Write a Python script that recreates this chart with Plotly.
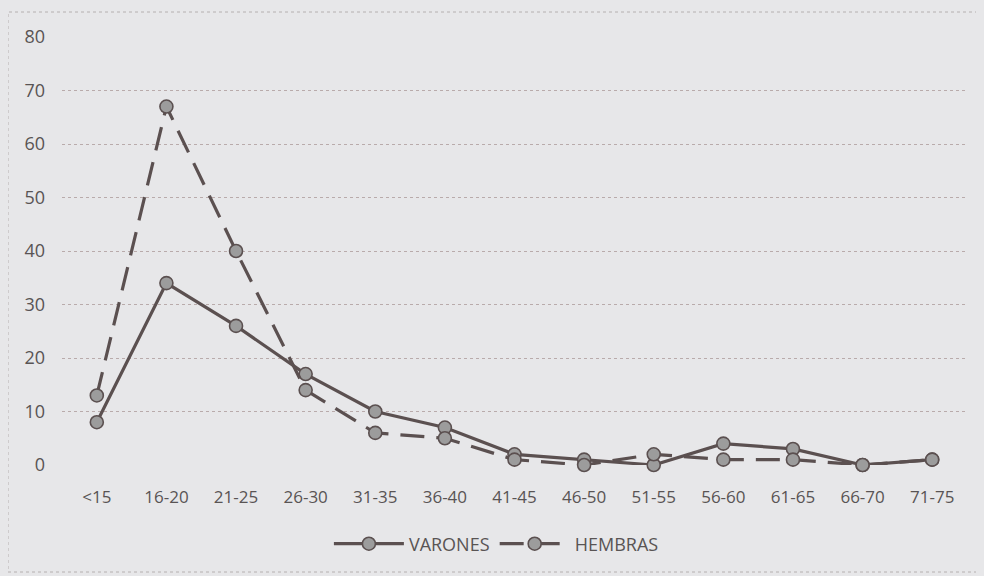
import plotly.graph_objects as go

categories = ["<15", "16-20", "21-25", "26-30", "31-35", "36-40", "41-45",
              "46-50", "51-55", "56-60", "61-65", "66-70", "71-75"]
varones = [8, 34, 26, 17, 10, 7, 2, 1, 0, 4, 3, 0, 1]
hembras = [13, 67, 40, 14, 6, 5, 1, 0, 2, 1, 1, 0, 1]
y_ticks = [0, 10, 20, 30, 40, 50, 60, 70, 80]

line_col = "#5b5050"
marker_fill = "#9c9c9c"
text_col = "#595454"
bg = "#e7e7e9"

fig = go.Figure()
fig.add_trace(go.Scatter(
    x=categories, y=varones, name="VARONES", mode="lines+markers",
    line=dict(color=line_col, width=3.2),
    marker=dict(size=13, color=marker_fill, line=dict(color=line_col, width=1.6)),
    cliponaxis=False,
))
fig.add_trace(go.Scatter(
    x=categories, y=hembras, name="HEMBRAS", mode="lines+markers",
    line=dict(color=line_col, width=3.2, dash="24px,12px"),
    marker=dict(size=13, color=marker_fill, line=dict(color=line_col, width=1.6)),
    cliponaxis=False,
))

fig.update_layout(
    width=976, height=568,
    margin=dict(l=54, r=17, t=29, b=111),
    paper_bgcolor=bg, plot_bgcolor=bg,
    font=dict(family="Open Sans, Liberation Sans, sans-serif", size=18, color=text_col),
    showlegend=True,
    legend=dict(orientation="h", x=0.48, xanchor="center", y=-79 / 428, yanchor="middle",
                font=dict(size=18, color=text_col), bgcolor="rgba(0,0,0,0)",
                itemwidth=70, tracegroupgap=0),
    xaxis=dict(type="category", range=[-0.5, 12.5], showgrid=False, zeroline=False,
               showline=False, ticks="", tickfont=dict(size=17, color=text_col),
               ticklabelstandoff=20),
    yaxis=dict(range=[0, 80], tickvals=y_ticks, showgrid=True, gridcolor="#b9abab",
               griddash="dot", gridwidth=1, zeroline=False, showline=False,
               ticks="", tickfont=dict(size=18, color=text_col), ticklabelstandoff=16),
    shapes=[dict(type="rect", xref="paper", yref="paper",
                 x0=-54 / 905, x1=1 + 11 / 905, y0=-107 / 428, y1=1 + 25 / 428,
                 line=dict(color="#b5b0b0", width=1, dash="dot"), fillcolor="rgba(0,0,0,0)",
                 layer="below")],
)

fig.write_html("out.html",
               post_script="document.body.style.background='%s';" % bg)
